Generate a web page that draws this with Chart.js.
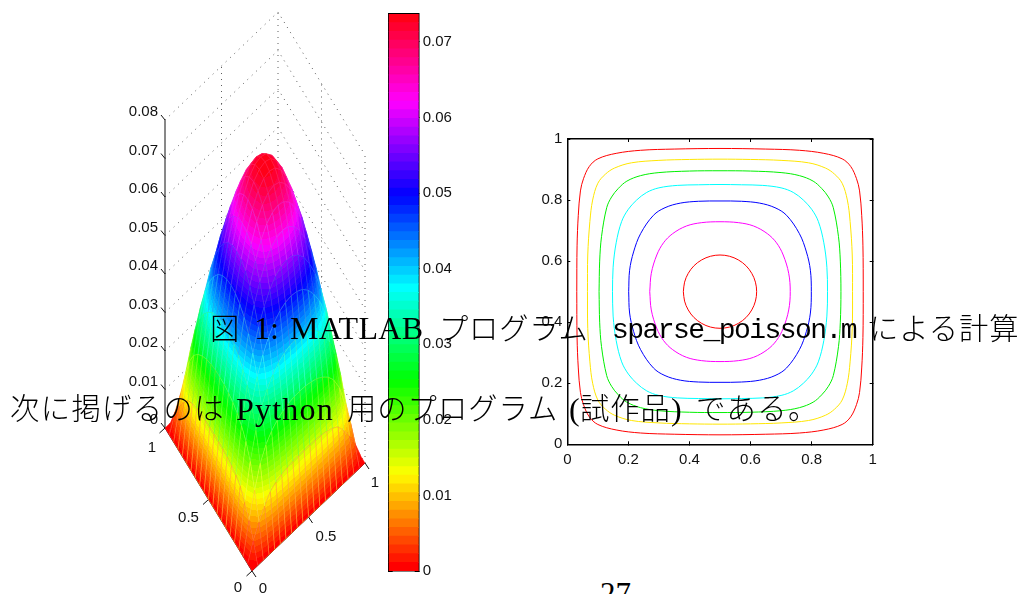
<!DOCTYPE html>
<html><head><meta charset="utf-8">
<script src="https://cdn.jsdelivr.net/npm/chart.js@4"></script>
<style>
html,body{margin:0;padding:0;background:#fff;overflow:hidden}
#page{position:relative;width:1024px;height:594px;overflow:hidden}
canvas{position:absolute}
.t{position:absolute;white-space:pre;color:#000;line-height:1;z-index:5;font-size:29.3px}
.j{font-family:"Noto Sans CJK JP";font-weight:300}
.r{font-family:"Liberation Serif";font-size:32px}
.m{font-family:"Liberation Mono"}
</style></head><body><div id="page">
<canvas id="surface" width="290" height="594" style="left:100px;top:0"></canvas>
<canvas id="bar" width="90" height="594" style="left:380px;top:-3px"></canvas>
<canvas id="contour" width="370" height="360" style="left:520px;top:120px"></canvas>
<span class="t j" style="left:210px;top:312px">図</span>
<span class="t r" style="left:254px;top:312px">1:</span>
<span class="t r" style="left:290px;top:312px;letter-spacing:.3px">MATLAB</span>
<span class="t j" style="left:439px;top:312px;letter-spacing:.8px">プログラム</span>
<span class="t m" style="left:612px;top:316.5px;font-size:28px;letter-spacing:-1.55px">sparse_poisson.m</span>
<span class="t j" style="left:869px;top:312px;letter-spacing:1px">による計算</span>
<span class="t j" style="left:10px;top:392px;letter-spacing:1.4px">次に掲げるのは</span>
<span class="t r" style="left:236px;top:393px;letter-spacing:1.2px">Python</span>
<span class="t j" style="left:347px;top:392px;letter-spacing:1px">用のプログラム</span>
<span class="t r" style="left:569px;top:393px">(</span>
<span class="t j" style="left:580px;top:392px;letter-spacing:1px">試作品</span>
<span class="t r" style="left:671px;top:393px">)</span>
<span class="t j" style="left:696px;top:392px;letter-spacing:1.5px">である。</span>
<span class="t r" style="left:600px;top:578px;font-size:31px">27</span>
</div>
<script>
// ---- values ----
const zTicks = [0,0.01,0.02,0.03,0.04,0.05,0.06,0.07,0.08];
const zTickLabels = ["0","0.01","0.02","0.03","0.04","0.05","0.06","0.07","0.08"];
const baseTicks = [0,0.5,1];
const baseTickLabels = ["0","0.5","1"];
const colorbarTicks = [0,0.01,0.02,0.03,0.04,0.05,0.06,0.07];
const colorbarEdges = [0,.00115,.0023,.00345,.00461,.00576,.00691,.00806,.00921,.01036,.01152,.01267,.01382,.01497,.01612,.01727,.01842,.01958,.02073,.02188,.02303,.02418,.02533,.02648,.02764,.02879,.02994,.03109,.03224,.03339,.03455,.0357,.03685,.038,.03915,.0403,.04145,.04261,.04376,.04491,.04606,.04721,.04836,.04952,.05067,.05182,.05297,.05412,.05527,.05642,.05758,.05873,.05988,.06103,.06218,.06333,.06449,.06564,.06679,.06794,.06909,.07024,.07139,.07255,.0737];
const contourColors = ["#ff0000","#ffe600","#00f000","#00ffff","#0000ff","#ff00ff","#ff0000"];
const contour1 = [[.031,.5],[.032,.65],[.036,.75],[.043,.83],[.053,.87],[.072,.91],[.10,.935],[.16,.953],[.24,.963],[.35,.967],[.5,.969]];
const contour2 = [[.066,.5],[.067,.62],[.074,.73],[.083,.80],[.10,.855],[.125,.885],[.155,.905],[.21,.922],[.30,.93],[.4,.933],[.5,.934]];
const contour3 = [[.104,.5],[.106,.6],[.112,.68],[.129,.775],[.145,.81],[.167,.838],[.195,.862],[.24,.88],[.3,.89],[.4,.895],[.5,.896]];
const contour4 = [[.148,.5],[.15,.58],[.16,.66],[.178,.73],[.20,.77],[.227,.80],[.26,.825],[.30,.84],[.36,.848],[.43,.85],[.5,.851]];
const contour5 = [[.201,.5],[.204,.57],[.217,.63],[.24,.69],[.282,.75],[.32,.775],[.37,.79],[.43,.796],[.5,.797]];
const contour6 = [[.27,.5],[.275,.56],[.293,.62],[.315,.66],[.345,.69],[.39,.715],[.44,.726],[.5,.729]];
const contour7 = [[.38,.5],[.384,.531],[.396,.56],[.415,.585],[.44,.604],[.469,.616],[.5,.62]];
// one quadrant of the surface height, step 0.05 in x and y
const surfaceQuarter = [
[0,0,0,0,0,0,0,0,0,0,0],
[0,.00457,.00797,.01079,.01316,.01417,.01477,.01515,.01536,.01544,.01548],
[0,.00797,.01444,.02007,.02347,.0256,.027,.02799,.02857,.02889,.02896],
[0,.01079,.02007,.0268,.03147,.03475,.03702,.03872,.03979,.04037,.04054],
[0,.01316,.02347,.03147,.0374,.04174,.04485,.04728,.04885,.04972,.04997],
[0,.01417,.0256,.03475,.04174,.04699,.05091,.05397,.05598,.05714,.05749],
[0,.01477,.027,.03702,.04485,.05091,.05547,.05908,.06153,.06286,.0633],
[0,.01515,.02799,.03872,.04728,.05397,.05908,.06316,.06598,.06748,.06803],
[0,.01536,.02857,.03979,.04885,.05598,.06153,.06598,.06895,.0707,.07127],
[0,.01544,.02889,.04037,.04972,.05714,.06286,.06748,.0707,.07253,.0731],
[0,.01548,.02896,.04054,.04997,.05749,.0633,.06803,.07127,.0731,.0737]];

// ---- helpers ----
const SANS = "Liberation Sans", TICK = 15;
Chart.defaults.animation = false;
Chart.defaults.responsive = false;
Chart.defaults.plugins.legend.display = false;
Chart.defaults.plugins.tooltip.enabled = false;
Chart.defaults.font.family = SANS;
Chart.defaults.font.size = TICK;
Chart.defaults.color = "#111";
function bandRGB(i){
  const h = Math.max(0,Math.min(63,i))/64*6, k = Math.floor(h), f = h-k;
  const q = Math.round(255*(1-f)), t = Math.round(255*f);
  return [[255,t,0],[q,255,0],[0,255,t],[0,q,255],[t,0,255],[255,0,q]][k];
}
function bandColor(i){ return "rgb("+bandRGB(i).join(",")+")"; }
function bandOf(z){ let b=0; while(b<63 && colorbarEdges[b+1]<=z) b++; return b; }
const at = (i,j)=> surfaceQuarter[i<=10?i:20-i][j<=10?j:20-j];
// oblique view of the box, in view units
const view = (x,y,z)=>({x:113*x-87*y, y:108*x+143*y+3850*z});

// ---- surface ----
const surfaceSets = [];
const cells = [];
for(let i=0;i<20;i++) for(let j=0;j<20;j++) cells.push([i,j]);
cells.sort((a,b)=>(a[0]+a[1])-(b[0]+b[1]));
for(const [i,j] of cells){
  const c = [[i,j],[i+1,j],[i+1,j+1],[i,j+1]];
  const zs = c.map(([a,b])=>at(a,b));
  const pts = c.map(([a,b],n)=>view(a/20,b/20,zs[n]));
  pts.push(pts[0]);
  const zm = zs.reduce((p,q)=>p+q,0)/4;
  const flat = bandColor(bandOf(zm));
  const rgb = bandRGB(bandOf(zm)).map(v=>Math.round(v+(255-v)*.15));
  surfaceSets.push({data:pts,showLine:true,pointRadius:0,tension:0,fill:'shape',
    borderColor:"rgb("+rgb.join(",")+")",borderWidth:.5,
    backgroundColor:(ctx)=>{
      const ch = ctx.chart, sx = ch.scales.x, sy = ch.scales.y;
      if(!sx||!sy||sx.width==null) return flat;
      const p = pts.slice(0,4).map(q=>[sx.getPixelForValue(q.x),sy.getPixelForValue(q.y)]);
      const d1=[(p[1][0]+p[2][0]-p[0][0]-p[3][0])/2,(p[1][1]+p[2][1]-p[0][1]-p[3][1])/2];
      const d2=[(p[3][0]+p[2][0]-p[0][0]-p[1][0])/2,(p[3][1]+p[2][1]-p[0][1]-p[1][1])/2];
      const dz1=(zs[1]+zs[2]-zs[0]-zs[3])/2, dz2=(zs[3]+zs[2]-zs[0]-zs[1])/2;
      const det=d1[0]*d2[1]-d1[1]*d2[0];
      const zlo=Math.min(...zs), zhi=Math.max(...zs);
      if(Math.abs(det)<8||zhi-zlo<1e-5) return flat;
      const g=[(dz1*d2[1]-dz2*d1[1])/det,(d1[0]*dz2-d2[0]*dz1)/det];
      const n=g[0]*g[0]+g[1]*g[1];
      const cx=(p[0][0]+p[1][0]+p[2][0]+p[3][0])/4, cy=(p[0][1]+p[1][1]+p[2][1]+p[3][1])/4;
      const k0=(zlo-zm)/n, k1=(zhi-zm)/n;
      const gr=ch.ctx.createLinearGradient(cx+g[0]*k0,cy+g[1]*k0,cx+g[0]*k1,cy+g[1]*k1);
      const b0=bandOf(zlo), b1=bandOf(zhi);
      for(let b=b0;b<=b1;b++){
        const s=Math.max(0,(colorbarEdges[b]-zlo)/(zhi-zlo)), e=Math.min(1,(colorbarEdges[b+1]-zlo)/(zhi-zlo));
        gr.addColorStop(s,bandColor(b)); gr.addColorStop(e,bandColor(b));
      }
      return gr;
    }});
}
// dotted walls
const gap = {x:NaN,y:NaN};
const wallPts = [];
for(const z of zTicks){ wallPts.push(view(0,1,z),view(1,1,z),view(1,0,z),gap); }
for(const [x,y] of [[.5,1],[1,1],[1,.5],[1,0]]){ wallPts.push(view(x,y,0),view(x,y,.08),gap); }
// solid axes and their ticks
const axisPts = [view(0,1,0),view(0,1,.08),gap,view(0,0,0),view(0,1,0),gap,view(0,0,0),view(1,0,0),gap];
const addTick=(p,dx,dy)=>axisPts.push(p,{x:p.x+dx,y:p.y+dy},gap);
for(const z of zTicks) addTick(view(0,1,z),-4,5);
for(const t of baseTicks){ addTick(view(0,t,0),-5.5,-5); addTick(view(t,0,0),4,-6); }

const labelPlugin = {id:'boxLabels',afterDatasetsDraw(ch){
  const c=ch.ctx,sx=ch.scales.x,sy=ch.scales.y;
  c.save();c.fillStyle="#111";c.font=TICK+"px '"+SANS+"'";
  c.textAlign="right";c.textBaseline="middle";
  zTicks.forEach((z,n)=>{const p=view(0,1,z);c.fillText(zTickLabels[n],sx.getPixelForValue(p.x)-7,sy.getPixelForValue(p.y)-8);});
  c.textAlign="center";
  const la=[[-14,17],[-20,18.5],[-13,20]], ra=[[11,18],[17.5,20],[10,20]];
  baseTicks.forEach((t,n)=>{
    let p=view(0,t,0);c.fillText(baseTickLabels[n],sx.getPixelForValue(p.x)+la[n][0],sy.getPixelForValue(p.y)+la[n][1]);
    p=view(t,0,0);c.fillText(baseTickLabels[n],sx.getPixelForValue(p.x)+ra[n][0],sy.getPixelForValue(p.y)+ra[n][1]);
  });
  c.restore();
}};
new Chart(document.getElementById('surface'),{type:'scatter',
  data:{datasets:[...surfaceSets,
    {data:axisPts,showLine:true,pointRadius:0,borderColor:"#111",borderWidth:1,spanGaps:false},
    {data:wallPts,showLine:true,pointRadius:0,borderColor:"#333",borderWidth:.8,borderDash:[1,5],spanGaps:false}]},
  options:{layout:{padding:0},clip:false,
    scales:{x:{type:'linear',display:false,min:-152,max:138},y:{type:'linear',display:false,min:-23,max:571}}},
  plugins:[labelPlugin]});

// ---- colour bar ----
const fixW=w=>(s)=>{s.width=w;}, fixH=h=>(s)=>{s.height=h;};
const barSets = colorbarEdges.slice(0,-1).map((lo,i)=>({data:[[lo,colorbarEdges[i+1]]],backgroundColor:bandColor(i),borderWidth:0,inflateAmount:.4,barPercentage:1,categoryPercentage:1}));
const cbTickCb=v=>{const r=Math.round(v*100)/100;return colorbarTicks.includes(r)?String(r):"";};
new Chart(document.getElementById('bar'),{type:'bar',
  data:{labels:["c"],datasets:barSets},
  options:{layout:{padding:{top:16.8,bottom:20,left:8.7}},
    scales:{
      x:{stacked:true,ticks:{display:false},grid:{display:false,drawTicks:false},border:{color:"#000",width:1.5},afterFit:fixH(0)},
      xt:{type:'category',labels:["c"],position:'top',ticks:{display:false},grid:{display:false,drawTicks:false},border:{color:"#000",width:1.5},afterFit:fixH(0)},
      y:{stacked:false,position:'right',min:0,max:.0737,ticks:{stepSize:.01,includeBounds:false,padding:8,color:"#111",callback:cbTickCb},
         grid:{drawOnChartArea:false,tickLength:-4,color:"#000"},border:{color:"#000",width:1.5},afterFit:fixW(51.3)},
      yl:{position:'left',min:0,max:.0737,ticks:{stepSize:.01,includeBounds:false,display:false},
         grid:{drawOnChartArea:false,tickLength:-4,color:"#000"},border:{color:"#000",width:1.5},afterFit:fixW(0)}
    }}});

// ---- contour plot ----
function loop(q){
  const tl=q.map(([x,y])=>({x,y}));
  const tr=[...q].reverse().slice(1).map(([x,y])=>({x:1-x,y}));
  const br=q.slice(1).map(([x,y])=>({x:1-x,y:1-y}));
  const bl=[...q].reverse().slice(1).map(([x,y])=>({x,y:1-y}));
  return [...tl,...tr,...br,...bl];
}
const fmt=v=>String(Math.round(v*10)/10);
const boxAxis=(pos,extra)=>Object.assign({type:'linear',position:pos,min:0,max:1,
  ticks:{stepSize:.2,display:false},grid:{drawOnChartArea:false,tickLength:-3,color:"#000"},border:{color:"#000",width:1.5}},extra);
new Chart(document.getElementById('contour'),{type:'scatter',
  data:{datasets:[contour1,contour2,contour3,contour4,contour5,contour6,contour7].map((q,i)=>({
    data:loop(q),showLine:true,pointRadius:0,tension:.35,borderColor:contourColors[i],borderWidth:1}))},
  options:{layout:{padding:0},
    scales:{
      x:boxAxis('bottom',{ticks:{stepSize:.2,padding:10,color:"#111",maxRotation:0,callback:fmt},afterFit:fixH(35.7)}),
      y:boxAxis('left',{ticks:{stepSize:.2,padding:8,color:"#111",callback:fmt},afterFit:fixW(47.3)}),
      xt:boxAxis('top',{afterFit:fixH(19)}),
      yr:boxAxis('right',{afterFit:fixW(17.3)})
    }}});
</script></body></html>
